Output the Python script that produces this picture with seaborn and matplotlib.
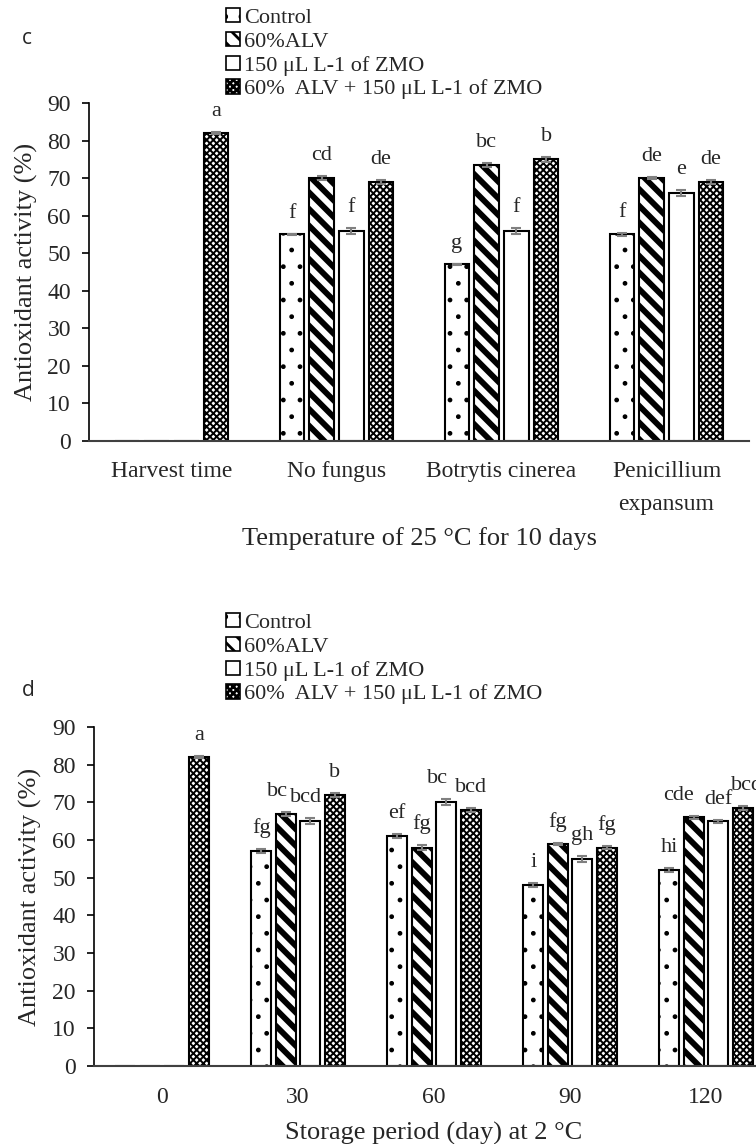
import matplotlib
matplotlib.use("Agg")
import matplotlib.pyplot as plt
import seaborn as sns
import pandas as pd
from matplotlib.patches import Patch
from matplotlib.container import BarContainer

# ---------------- data ----------------
treatments = ["Control", "60%ALV", "150 μL L-1 of ZMO", "60%  ALV + 150 μL L-1 of ZMO"]

top_categories = ["Harvest time", "No fungus", "Botrytis cinerea", "Penicillium\nexpansum"]
top_control = [0, 55, 47, 55]
top_alv = [0, 70, 73.5, 70]
top_zmo = [0, 56, 56, 66]
top_combo = [82, 69, 75, 69]
top_err_control = [0, 0.2, 0.2, 0.5]
top_err_alv = [0, 0.5, 0.6, 0.3]
top_err_zmo = [0, 0.8, 0.8, 0.8]
top_err_combo = [0.3, 0.5, 0.6, 0.5]
top_let_control = ["", "f", "g", "f"]
top_let_alv = ["", "cd", "bc", "de"]
top_let_zmo = ["", "f", "f", "e"]
top_let_combo = ["a", "de", "b", "de"]

bot_categories = ["0", "30", "60", "90", "120"]
bot_control = [0, 57, 61, 48, 52]
bot_alv = [0, 67, 58, 59, 66]
bot_zmo = [0, 65, 70, 55, 65]
bot_combo = [82, 72, 68, 58, 68.5]
bot_err_control = [0, 0.5, 0.6, 0.5, 0.5]
bot_err_alv = [0, 0.5, 0.6, 0.3, 0.5]
bot_err_zmo = [0, 0.8, 0.8, 0.8, 0.4]
bot_err_combo = [0.3, 0.5, 0.6, 0.5, 0.6]
bot_let_control = ["", "fg", "ef", "i", "hi"]
bot_let_alv = ["", "bc", "fg", "fg", "cde"]
bot_let_zmo = ["", "bcd", "bc", "gh", "def"]
bot_let_combo = ["a", "b", "bcd", "fg", "bcd"]

yticks = [0, 10, 20, 30, 40, 50, 60, 70, 80, 90]

# ---------------- style ----------------
sns.set_style("white")
plt.rcParams["font.family"] = ["Liberation Serif", "DejaVu Serif"]
plt.rcParams["hatch.linewidth"] = 2.0
plt.rcParams["hatch.color"] = "black"

hatches = [".", "\\\\", "", "xxxxx"]
hatch_lw = [1.0, 4.2, 1.0, 1.4]

TICK_FS = 17
LET_FS = 16
LAB_FS = 19
LEG_FS = 16

# horizontal nudges (points) of letter labels, per series, to keep crowded labels apart
top_nudge = [[0] * 4, [0] * 4, [0] * 4, [0] * 4]
bot_nudge = [[0, 0, 0, 0, 0],
             [0, -6, 0, 0, -11],
             [0, -3, -6, 0, 0],
             [0, 0, 0, 0, 3]]


def set_hlw(p, lw):
    if hasattr(p, "set_hatch_linewidth"):
        p.set_hatch_linewidth(lw)
    elif hasattr(p, "_hatch_linewidth"):
        p._hatch_linewidth = lw


def draw_panel(ax, categories, series, errs, lets, nudges, xlabel, xlab_y, ylab_x, tick_pad):
    rows = []
    for t, vals in zip(treatments, series):
        for c, v in zip(categories, vals):
            rows.append({"cat": c, "val": v, "trt": t})
    df = pd.DataFrame(rows)
    sns.barplot(data=df, x="cat", y="val", hue="trt", order=categories,
                hue_order=treatments, palette=["white"] * 4, saturation=1,
                edgecolor="black", linewidth=1.5, width=0.72, gap=0.18,
                errorbar=None, legend=False, ax=ax)
    bar_conts = [c for c in ax.containers if isinstance(c, BarContainer)]
    for i, cont in enumerate(bar_conts):
        for j, bar in enumerate(cont):
            bar.set_hatch(hatches[i])
            set_hlw(bar, hatch_lw[i])
            h = bar.get_height()
            x = bar.get_x() + bar.get_width() / 2
            if h > 0:
                e = errs[i][j]
                ax.errorbar(x, h, yerr=e, fmt="none", ecolor="#808080",
                            elinewidth=1.5, capsize=3.5, capthick=1.5, zorder=5)
                ax.annotate(lets[i][j], (x, h + e), xytext=(nudges[i][j], 11.5),
                            textcoords="offset points", ha="center",
                            va="baseline", fontsize=LET_FS, annotation_clip=False)
    ax.set_xlim(-0.5, len(categories) - 0.5)
    ax.set_ylim(0, 90)
    ax.set_yticks(yticks)
    ax.tick_params(axis="y", direction="out", length=5, width=1.2,
                   labelsize=TICK_FS, pad=8, left=True, color="black")
    ax.tick_params(axis="x", length=0, labelsize=TICK_FS, pad=tick_pad)
    for lab in ax.get_xticklabels():
        lab.set_linespacing(1.75)
    for s in ["top", "right"]:
        ax.spines[s].set_visible(False)
    ax.spines["left"].set_color("black")
    ax.spines["left"].set_linewidth(1.2)
    ax.spines["bottom"].set_color("#404040")
    ax.spines["bottom"].set_linewidth(1.5)
    ax.set_xlabel(xlabel, fontsize=LAB_FS)
    ax.xaxis.set_label_coords(0.5, xlab_y)
    ax.set_ylabel("Antioxidant activity (%)", fontsize=LAB_FS, va="center")
    ax.yaxis.set_label_coords(ylab_x, 0.5)


fig = plt.figure(figsize=(7.56, 11.44), dpi=100)
ax1 = fig.add_axes([89 / 756, 1 - 441 / 1144, 660 / 756, 338 / 1144])
ax2 = fig.add_axes([94 / 756, 1 - 1066 / 1144, 680 / 756, 339 / 1144])

draw_panel(ax1, top_categories,
           [top_control, top_alv, top_zmo, top_combo],
           [top_err_control, top_err_alv, top_err_zmo, top_err_combo],
           [top_let_control, top_let_alv, top_let_zmo, top_let_combo],
           top_nudge, "Temperature of 25 °C for 10 days", -0.254, -0.095, 14.5)
draw_panel(ax2, bot_categories,
           [bot_control, bot_alv, bot_zmo, bot_combo],
           [bot_err_control, bot_err_alv, bot_err_zmo, bot_err_combo],
           [bot_let_control, bot_let_alv, bot_let_zmo, bot_let_combo],
           bot_nudge, "Storage period (day) at 2 °C", -0.165, -0.094, 15)

# legends
def make_handles():
    hs = []
    for i in range(4):
        p = Patch(facecolor="white", edgecolor="black", hatch=hatches[i], linewidth=1.2)
        set_hlw(p, hatch_lw[i] * 0.6)
        hs.append(p)
    return hs

for ytop in [1 - 8 / 1144, 1 - 613 / 1144]:
    fig.legend(make_handles(), treatments, loc="upper left",
               bbox_to_anchor=(226 / 756, ytop), frameon=False, fontsize=LEG_FS,
               handlelength=0.62, handleheight=0.62, handletextpad=0.2,
               labelspacing=0.17, borderpad=0, borderaxespad=0)

fig.text(22 / 756, 1 - 38 / 1144, "c", fontsize=15, family=["Open Sans", "DejaVu Sans"],
         ha="left", va="center")
fig.text(22 / 756, 1 - 690 / 1144, "d", fontsize=15, family=["Open Sans", "DejaVu Sans"],
         ha="left", va="center")

fig.savefig("out.png", dpi=100)
